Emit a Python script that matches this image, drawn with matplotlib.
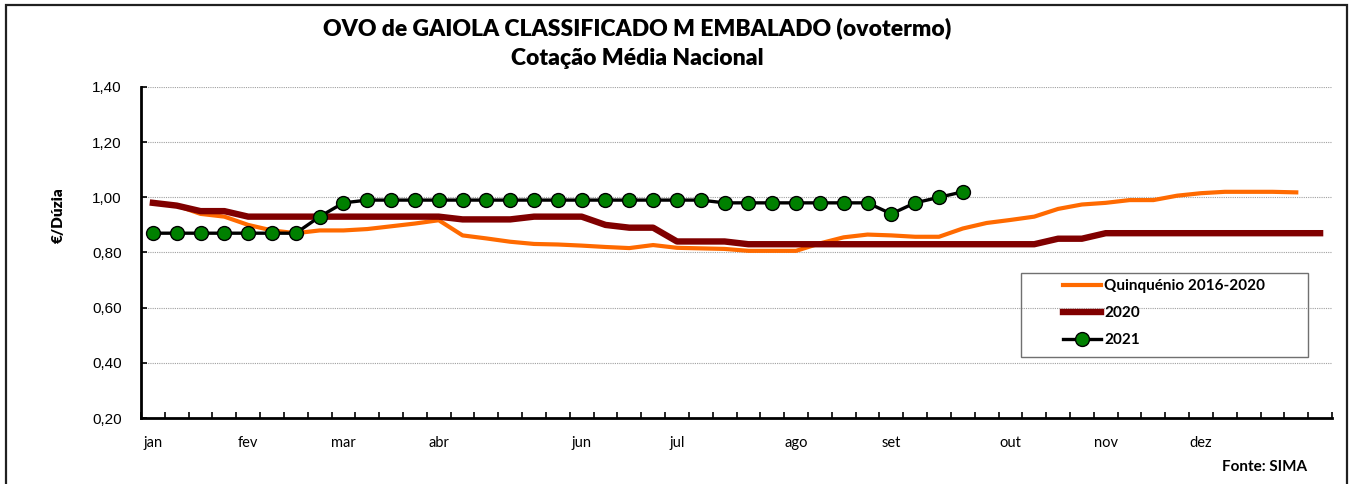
import matplotlib
matplotlib.use('Agg')
import matplotlib.pyplot as plt
import numpy as np
from matplotlib.patches import Rectangle
from matplotlib.ticker import FuncFormatter, MultipleLocator

# weekly categories (50), month names shown on some of them
month_labels = ['jan', '', '', '', 'fev', '', '', '', 'mar', '', '', '', 'abr',
                '', '', '', '', '', 'jun', '', '', '', 'jul', '', '', '', '',
                'ago', '', '', '', 'set', '', '', '', '', 'out', '', '', '',
                'nov', '', '', '', 'dez', '', '', '', '', '']

quinquenio = [0.98, 0.97, 0.94, 0.93, 0.90, 0.88, 0.87, 0.88, 0.88, 0.885,
              0.895, 0.905, 0.917, 0.862, 0.851, 0.839, 0.831, 0.829, 0.825, 0.82,
              0.816, 0.827, 0.817, 0.815, 0.813, 0.806, 0.806, 0.806, 0.833, 0.855,
              0.865, 0.862, 0.857, 0.857, 0.887, 0.907, 0.918, 0.93, 0.958, 0.974,
              0.98, 0.99, 0.99, 1.006, 1.015, 1.02, 1.02, 1.02, 1.018]

y2020 = [0.98, 0.97, 0.95, 0.95, 0.93, 0.93, 0.93, 0.93, 0.93, 0.93,
         0.93, 0.93, 0.93, 0.92, 0.92, 0.92, 0.93, 0.93, 0.93, 0.90,
         0.89, 0.89, 0.84, 0.84, 0.84, 0.83, 0.83, 0.83, 0.83, 0.83,
         0.83, 0.83, 0.83, 0.83, 0.83, 0.83, 0.83, 0.83, 0.85, 0.85,
         0.87, 0.87, 0.87, 0.87, 0.87, 0.87, 0.87, 0.87, 0.87, 0.87]

y2021 = [0.87, 0.87, 0.87, 0.87, 0.87, 0.87, 0.87, 0.93, 0.98, 0.99,
         0.99, 0.99, 0.99, 0.99, 0.99, 0.99, 0.99, 0.99, 0.99, 0.99,
         0.99, 0.99, 0.99, 0.99, 0.98, 0.98, 0.98, 0.98, 0.98, 0.98,
         0.98, 0.94, 0.98, 1.00, 1.02]

cal = 'Lato'
fig = plt.figure(figsize=(13.51, 4.84), dpi=100)
ax = fig.add_axes([141/1351, 1-418/484, 1191/1351, 331/484])

x_q = np.arange(len(quinquenio))
x_20 = np.arange(len(y2020))
x_21 = np.arange(len(y2021))

ax.plot(x_q, quinquenio, color='#ff6a00', lw=3.0, label='Quinquénio 2016-2020', zorder=3)
ax.plot(x_20, y2020, color='#800000', lw=4.6, label='2020', zorder=4)
ax.plot(x_21, y2021, color='black', lw=2.4, marker='o', ms=10,
        markerfacecolor='#008000', markeredgecolor='black', markeredgewidth=1.0,
        label='2021', zorder=5)

ax.set_xlim(-0.5, len(month_labels) - 0.5)
ax.set_ylim(0.2, 1.4)
ax.yaxis.set_major_locator(MultipleLocator(0.2))
ax.yaxis.set_major_formatter(FuncFormatter(lambda v, p: ('%.2f' % v).replace('.', ',')))
ax.grid(axis='y', color='#a0a0a0', linestyle=(0, (1, 1)), linewidth=0.8, zorder=0)

ax.set_xticks(np.arange(len(month_labels)))
ax.set_xticklabels(month_labels, fontfamily=cal, fontsize=10.5)
ax.set_xticks(np.arange(len(month_labels) + 1) - 0.5, minor=True)
ax.tick_params(axis='x', which='major', length=0, pad=13)
ax.tick_params(axis='x', which='minor', direction='in', length=4, width=1.2)
ax.tick_params(axis='y', direction='in', length=4, width=1.2, pad=14, labelsize=11)
for t in ax.get_yticklabels():
    t.set_fontfamily('Liberation Sans')

for s in ['top', 'right']:
    ax.spines[s].set_visible(False)
for s in ['left', 'bottom']:
    ax.spines[s].set_linewidth(2)

# legend with its own frame
ax.add_patch(Rectangle((0.739, 0.184), 0.241, 0.254, transform=ax.transAxes,
                       fill=False, edgecolor='#707070', lw=1, zorder=6))
ax.legend(loc='upper left', bbox_to_anchor=(0.774, 0.42), frameon=False,
          borderpad=0, borderaxespad=0, handlelength=2.5, handletextpad=0.2,
          labelspacing=0.85, prop={'family': cal, 'weight': 'bold', 'size': 11})

fig.text(0.4715, 0.942, 'OVO de GAIOLA CLASSIFICADO M EMBALADO (ovotermo)',
         ha='center', va='center', fontfamily=cal, fontweight='heavy', fontsize=16.5)
fig.text(0.4715, 0.879, 'Cotação Média Nacional',
         ha='center', va='center', fontfamily=cal, fontweight='heavy', fontsize=16.5)
fig.text(0.043, 0.555, '€/Dúzia', rotation=90, ha='center', va='center',
         fontfamily=cal, fontweight='heavy', fontsize=11)
fig.text(1307/1351, 0.035, 'Fonte: SIMA', ha='right', va='center',
         fontfamily=cal, fontweight='bold', fontsize=11)

fig.patches.append(Rectangle((6/1351, -0.05), 1341/1351, 1.05 - 5/484,
                             transform=fig.transFigure, fill=False,
                             edgecolor='#202020', lw=1.6))

fig.savefig('out.png', dpi=100)
